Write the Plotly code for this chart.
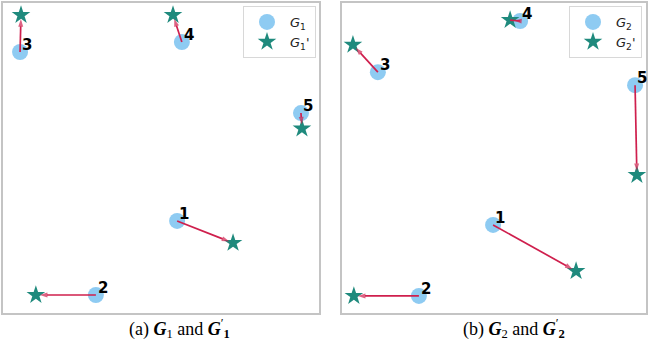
import plotly.graph_objects as go

# Node ids
nodes = ["1", "2", "3", "4", "5"]

# Panel (a): positions in normalized plot units (0..1)
g1_x = [0.551, 0.294, 0.054, 0.566, 0.943]
g1_y = [0.297, 0.058, 0.842, 0.874, 0.645]
g1p_x = [0.728, 0.104, 0.057, 0.538, 0.946]
g1p_y = [0.226, 0.058, 0.961, 0.961, 0.595]

# Panel (b)
g2_x = [0.497, 0.253, 0.118, 0.586, 0.964]
g2_y = [0.284, 0.055, 0.777, 0.942, 0.735]
g2p_x = [0.770, 0.039, 0.036, 0.553, 0.970]
g2p_y = [0.135, 0.055, 0.865, 0.945, 0.445]

CIRCLE = "#8ecbf2"
STAR = "#1f8a7d"
ARROW = "#cf1f4d"
BORDER = "#c4c4c4"

W, H = 649, 343
fig = go.Figure()

panels = [
    dict(xa="x", ya="y", gx=g1_x, gy=g1_y, px=g1p_x, py=g1p_y, sub="1", legend="legend"),
    dict(xa="x2", ya="y2", gx=g2_x, gy=g2_y, px=g2p_x, py=g2p_y, sub="2", legend="legend2"),
]

annotations = []
for p in panels:
    fig.add_trace(go.Scatter(
        x=p["gx"], y=p["gy"], xaxis=p["xa"], yaxis=p["ya"], mode="markers",
        marker=dict(symbol="circle", size=16, color=CIRCLE, line=dict(width=0)),
        name="<i>G</i><sub>%s</sub>" % p["sub"], legend=p["legend"], cliponaxis=False,
    ))
    fig.add_trace(go.Scatter(
        x=p["px"], y=p["py"], xaxis=p["xa"], yaxis=p["ya"], mode="markers",
        marker=dict(symbol="star", size=14, color=STAR, line=dict(width=0)),
        name="<i>G</i><sub>%s</sub>'" % p["sub"], legend=p["legend"], cliponaxis=False,
    ))
    for i in range(len(nodes)):
        fig.add_trace(go.Scatter(
            x=[p["gx"][i], p["px"][i]], y=[p["gy"][i], p["py"][i]],
            xaxis=p["xa"], yaxis=p["ya"], mode="lines+markers",
            line=dict(color=ARROW, width=1.7),
            marker=dict(symbol=["circle", "arrow"], size=[0, 8], color=ARROW,
                        angleref="previous", standoff=[0, 4], line=dict(width=0)),
            showlegend=False, hoverinfo="skip", cliponaxis=False,
        ))
    for i in range(len(nodes)):
        annotations.append(dict(
            x=p["gx"][i], y=p["gy"][i], xref=p["xa"], yref=p["ya"],
            text="<b>%s</b>" % nodes[i], showarrow=False,
            xshift=7, yshift=7,
            font=dict(family="DejaVu Sans", size=15, color="black"),
        ))

def py(pix):
    return 1 - pix / H

def pxx(pix):
    return pix / W

captions = [
    dict(cx=179, label="(a)", sub="1"),
    dict(cx=514, label="(b)", sub="2"),
]
for c in captions:
    annotations.append(dict(
        x=pxx(c["cx"]), y=py(328), xref="paper", yref="paper", showarrow=False,
        xanchor="center", yanchor="middle",
        text="%s <b><i>G</i></b><sub>%s</sub> and <b><i>G</i></b><sup>′</sup><sub><b>%s</b></sub>" % (c["label"], c["sub"], c["sub"]),
        font=dict(family="Liberation Serif", size=18, color="black"),
    ))

axis_common = dict(range=[0, 1], showticklabels=False, ticks="", showgrid=False,
                   zeroline=False, showline=True, mirror=True, linecolor=BORDER,
                   linewidth=1.5, fixedrange=True)

legend_common = dict(xanchor="right", yanchor="top", bordercolor="#d8d8d8",
                     borderwidth=1, bgcolor="white",
                     font=dict(family="DejaVu Sans", size=13, color="#222"),
                     tracegroupgap=0, itemwidth=36)

fig.update_layout(
    width=W, height=H, margin=dict(l=0, r=0, t=0, b=0),
    paper_bgcolor="white", plot_bgcolor="white",
    xaxis=dict(domain=[pxx(3), pxx(319)], anchor="y", **axis_common),
    yaxis=dict(domain=[py(313), py(3)], anchor="x", **axis_common),
    xaxis2=dict(domain=[pxx(342), pxx(646)], anchor="y2", **axis_common),
    yaxis2=dict(domain=[py(313), py(3)], anchor="x2", **axis_common),
    legend=dict(x=pxx(316), y=py(6), **legend_common),
    legend2=dict(x=pxx(642), y=py(6), **legend_common),
    annotations=annotations,
    showlegend=True,
)

fig.write_html(
    "out.html",
    config={"displayModeBar": False},
    post_script="document.body.style.margin='0px';document.body.style.overflow='hidden';",
)
